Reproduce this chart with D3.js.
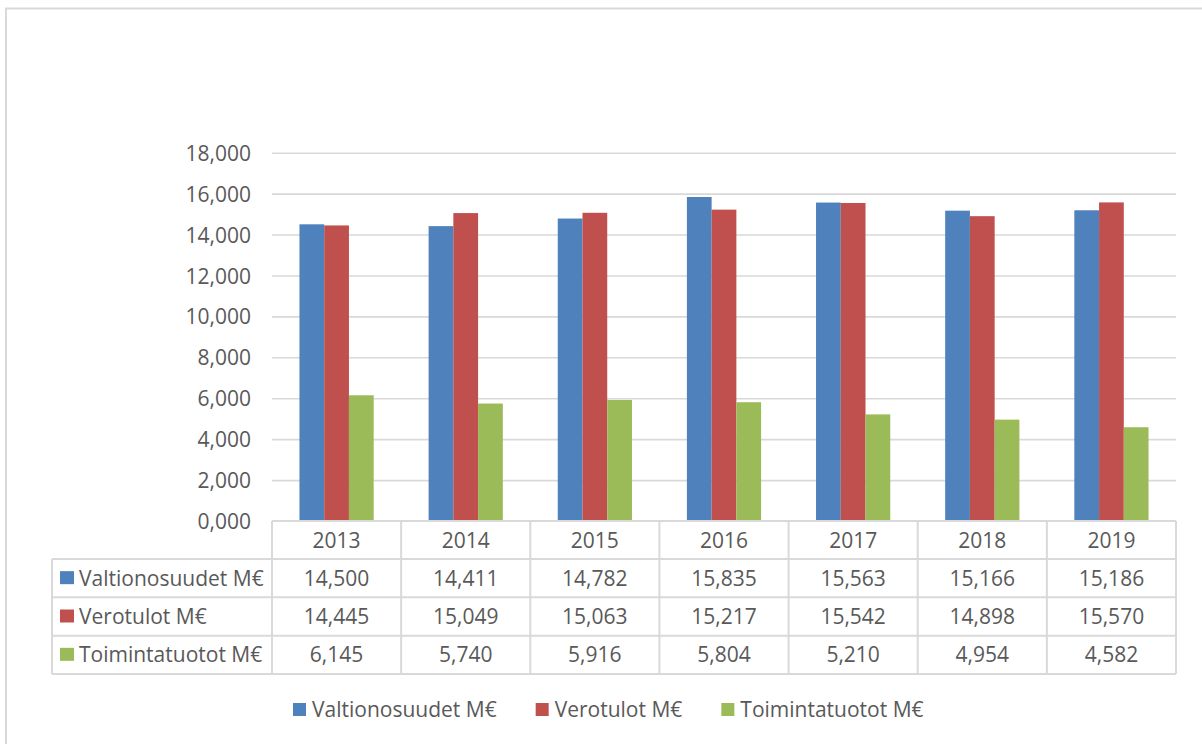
<!DOCTYPE html>
<html>
<head>
<meta charset="utf-8">
<script src="https://cdn.jsdelivr.net/npm/d3@7"></script>
<style>
  html, body { margin: 0; padding: 0; background: #fff; }
  svg text { font-family: "Open Sans", "Noto Sans", sans-serif; fill: #595959; }
</style>
</head>
<body>
<svg id="chart" width="1202" height="744"></svg>
<script>
// ---- data ----
const years = ["2013", "2014", "2015", "2016", "2017", "2018", "2019"];
const seriesNames = ["Valtionosuudet M€", "Verotulot M€", "Toimintatuotot M€"];
const valtionosuudet = [14.500, 14.411, 14.782, 15.835, 15.563, 15.166, 15.186];
const verotulot = [14.445, 15.049, 15.063, 15.217, 15.542, 14.898, 15.570];
const toimintatuotot = [6.145, 5.740, 5.916, 5.804, 5.210, 4.954, 4.582];
const yTicks = [0, 2, 4, 6, 8, 10, 12, 14, 16, 18];
const colors = ["#4F81BD", "#C0504D", "#9BBB59"];

const seriesValues = [valtionosuudet, verotulot, toimintatuotot];

const fiLocale = d3.formatLocale({ decimal: ",", thousands: "\u00a0", grouping: [3], currency: ["", " €"] });
const fmt = fiLocale.format(".3f");

const svg = d3.select("#chart");
const W = 1202, H = 744;
const gridColor = "#d9d9d9";
const FS = "21px";

// outer frame
svg.append("rect").attr("x", 6).attr("y", 8.5).attr("width", W + 50).attr("height", H + 50)
  .attr("fill", "none").attr("stroke", gridColor).attr("stroke-width", 2);

const plotLeft = 272, plotRight = 1176, plotTop = 152.7, plotBottom = 521;
const x = d3.scaleBand().domain(years).range([plotLeft, plotRight]).paddingInner(0).paddingOuter(0);
const xs = d3.scaleBand().domain(d3.range(seriesNames.length)).range([0, x.bandwidth()]).paddingInner(0).paddingOuter(1.11);
const y = d3.scaleLinear().domain([0, 18]).range([plotBottom, plotTop]);

// gridlines
const yAxis = d3.axisLeft(y).tickValues(yTicks).tickSize(-(plotRight - plotLeft)).tickFormat(fmt).tickPadding(21);
const gAxis = svg.append("g").attr("transform", `translate(${plotLeft},0)`).call(yAxis);
gAxis.select(".domain").remove();
gAxis.selectAll(".tick line").attr("stroke", gridColor).attr("stroke-width", 1.6)
  .filter(d => d === 0).remove();
gAxis.selectAll(".tick text").attr("font-size", FS).attr("fill", "#595959")
  .attr("dy", "0.36em");

// bars
seriesValues.forEach((vals, si) => {
  svg.append("g").selectAll("rect").data(vals).join("rect")
    .attr("x", (d, i) => x(years[i]) + xs(si))
    .attr("width", xs.bandwidth())
    .attr("y", d => y(d))
    .attr("height", d => y(0) - y(d))
    .attr("fill", colors[si]);
});

// data table
const tableLeft = 52;
const headerTop = plotBottom, headerBottom = 559;
const rowH = (674 - headerBottom) / 3;
const tg = svg.append("g");
const lineStyle = sel => sel.attr("stroke", gridColor).attr("stroke-width", 2).attr("fill", "none");

// horizontal lines
tg.append("line").attr("x1", plotLeft).attr("x2", plotRight).attr("y1", headerTop).attr("y2", headerTop).call(lineStyle);
for (let r = 0; r <= 3; r++) {
  const yy = headerBottom + r * rowH;
  tg.append("line").attr("x1", tableLeft).attr("x2", plotRight).attr("y1", yy).attr("y2", yy).call(lineStyle);
}
// vertical lines
tg.append("line").attr("x1", tableLeft).attr("x2", tableLeft).attr("y1", headerBottom).attr("y2", headerBottom + 3 * rowH).call(lineStyle);
[...years.map(yr => x(yr)), plotRight].forEach(xx => {
  tg.append("line").attr("x1", xx).attr("x2", xx).attr("y1", headerTop).attr("y2", headerBottom + 3 * rowH).call(lineStyle);
});

// header years
tg.selectAll("text.year").data(years).join("text").attr("class", "year")
  .attr("x", d => x(d) + x.bandwidth() / 2).attr("y", (headerTop + headerBottom) / 2)
  .attr("dy", "0.36em").attr("text-anchor", "middle").attr("font-size", FS).text(d => d);

// rows
seriesNames.forEach((name, si) => {
  const cy = headerBottom + si * rowH + rowH / 2;
  tg.append("rect").attr("x", 60).attr("y", cy - 7).attr("width", 14).attr("height", 13).attr("fill", colors[si]);
  tg.append("text").attr("x", 79).attr("y", cy).attr("dy", "0.36em").attr("font-size", FS).text(name);
  tg.append("g").selectAll("text").data(seriesValues[si]).join("text")
    .attr("x", (d, i) => x(years[i]) + x.bandwidth() / 2).attr("y", cy)
    .attr("dy", "0.36em").attr("text-anchor", "middle").attr("font-size", FS).text(d => fmt(d));
});

// legend
const lg = svg.append("g");
let lx = 293;
const ly = 709.5;
seriesNames.forEach((name, si) => {
  lg.append("rect").attr("x", lx).attr("y", ly - 6.5).attr("width", 13).attr("height", 13).attr("fill", colors[si]);
  const t = lg.append("text").attr("x", lx + 19).attr("y", ly).attr("dy", "0.36em").attr("font-size", FS).text(name);
  const w = t.node().getComputedTextLength();
  lx = lx + 19 + w + 39;
});
</script>
</body>
</html>
